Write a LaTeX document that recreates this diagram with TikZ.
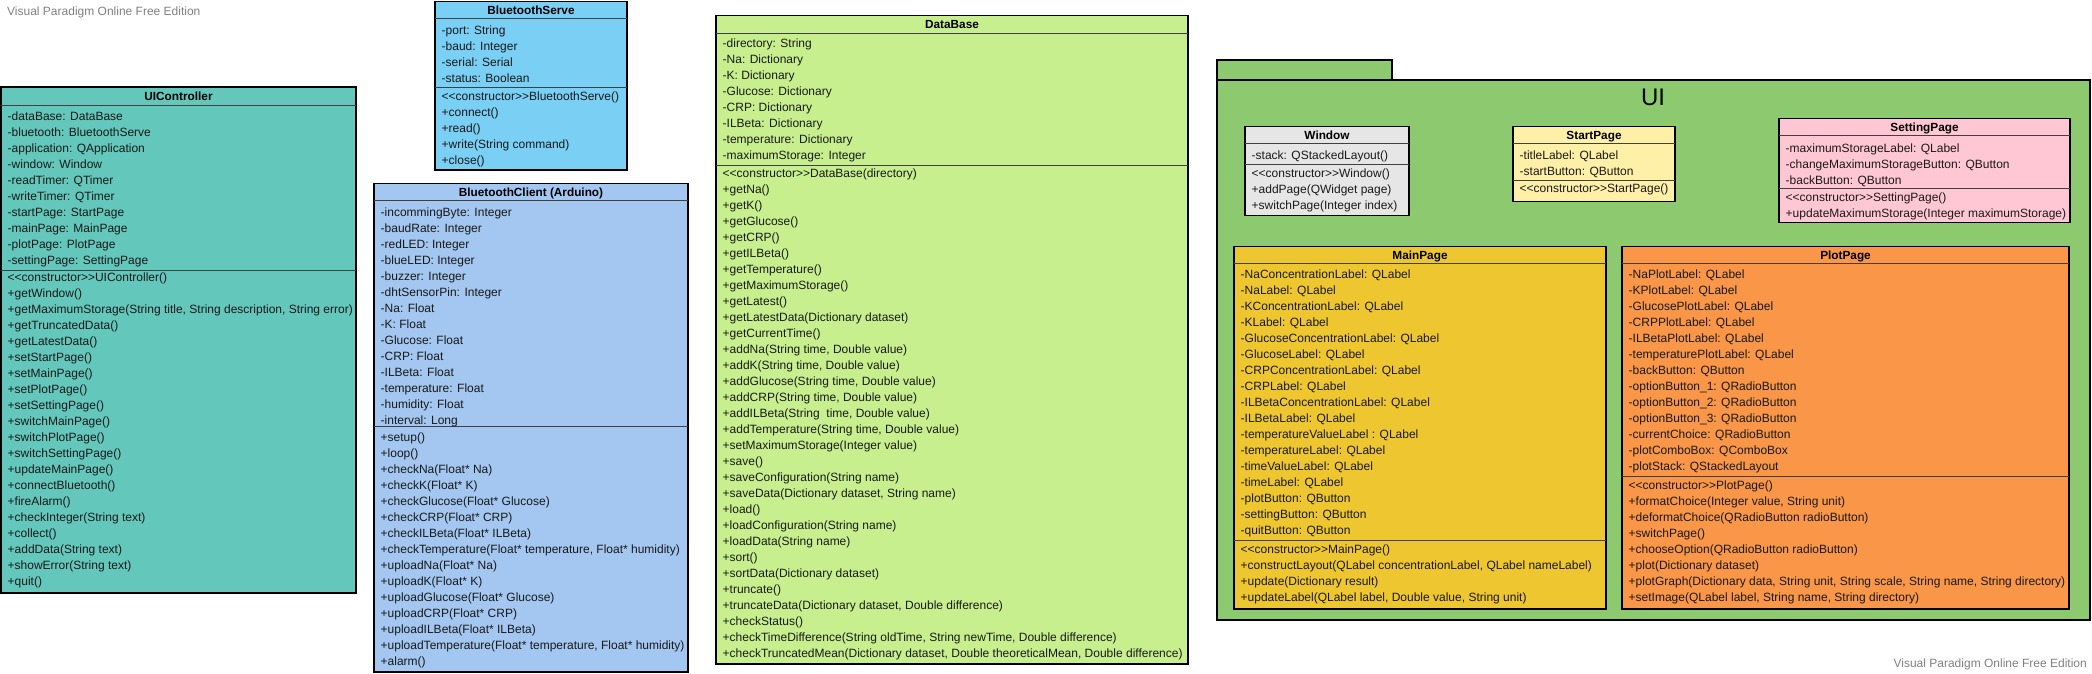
\documentclass[tikz,border=0pt]{standalone}
\usepackage{fontspec}
\setmainfont{Liberation Sans}[Ligatures=TeXOff]
\usetikzlibrary{calc}
\definecolor{cUIC}{RGB}{100,199,187}
\definecolor{cBTS}{RGB}{122,207,245}
\definecolor{cBTC}{RGB}{163,199,240}
\definecolor{cDB}{RGB}{200,239,142}
\definecolor{cUI}{RGB}{140,201,111}
\definecolor{cWin}{RGB}{230,230,230}
\definecolor{cStart}{RGB}{255,240,168}
\definecolor{cSet}{RGB}{255,199,211}
\definecolor{cMain}{RGB}{238,198,48}
\definecolor{cPlot}{RGB}{249,150,71}
\tikzset{
  classbox/.style={draw=black, line width=1.2pt, inner sep=0pt, outer sep=0pt},
  sepline/.style={draw=black!75, line width=0.9pt},
  titletext/.style={inner sep=0pt, font=\fontsize{11.8}{16}\selectfont\bfseries},
  linetext/.style={inner sep=0pt, font=\fontsize{12}{16}\selectfont, text=black!90},
  pkgbox/.style={draw=black, line width=1.2pt, fill=cUI, inner sep=0pt, outer sep=0pt},
  wmtext/.style={inner sep=0pt, font=\fontsize{12}{14}\selectfont, text=black!50}
}
% #1 name, #2 x1, #3 x2, #4 top, #5 title line, #6 separator, #7 bottom, #8 fill, #9 title
\newcommand\umlbox[9]{%
  \pgfmathsetmacro\bw{#3-#2}%
  \pgfmathsetmacro\bh{#7-#4}%
  \node[classbox, fill=#8, minimum width=\bw pt, minimum height=\bh pt, anchor=north west] (#1) at (#2,#4) {};
  \draw[sepline] ($(#1.north west)+(0,#5-#4)$) -- ($(#1.north east)+(0,#5-#4)$);
  \draw[sepline] ($(#1.north west)+(0,#6-#4)$) -- ($(#1.north east)+(0,#6-#4)$);
  \pgfmathsetmacro\tb{(#4+#5)/2+4.2}%
  \node[titletext, anchor=base] (#1-title) at ($(#1.north)+(0,\tb-#4)$) {#9};
}
% #1 name, #2 box left x, #3 first line centre y, #4 lines
\newcommand\umllines[4]{%
  \node[linetext, anchor=north west] (#1) at ({#2+6.5},{#3-7.0}) {\begin{tabular}{@{}l@{}}#4\end{tabular}};
}
\begin{document}
\begin{tikzpicture}[x=1pt,y=-1pt]
\useasboundingbox (0,0) rectangle (2092,674);

% watermarks
\node[wmtext, anchor=base west] (wm1) at (7,16) {Visual Paradigm Online Free Edition};
\node[wmtext, anchor=base east] (wm2) at (2087,667) {Visual Paradigm Online Free Edition};

% UIController
\umlbox{uic}{1}{356}{87}{105}{270}{593}{cUIC}{UIController}
\umllines{uic-attr}{1}{116}{-dataBase: DataBase\\-bluetooth: BluetoothServe\\-application: QApplication\\-window: Window\\-readTimer: QTimer\\-writeTimer: QTimer\\-startPage: StartPage\\-mainPage: MainPage\\-plotPage: PlotPage\\-settingPage: SettingPage}
\umllines{uic-meth}{1}{277.5}{<<constructor>>UIController()\\+getWindow()\\+getMaximumStorage(String title, String description, String error)\\+getTruncatedData()\\+getLatestData()\\+setStartPage()\\+setMainPage()\\+setPlotPage()\\+setSettingPage()\\+switchMainPage()\\+switchPlotPage()\\+switchSettingPage()\\+updateMainPage()\\+connectBluetooth()\\+fireAlarm()\\+checkInteger(String text)\\+collect()\\+addData(String text)\\+showError(String text)\\+quit()}

% BluetoothServe
\umlbox{bts}{435}{627}{1.3}{18.5}{87.3}{170}{cBTS}{BluetoothServe}
\umllines{bts-attr}{435}{30}{-port: String\\-baud: Integer\\-serial: Serial\\-status: Boolean}
\umllines{bts-meth}{435}{96}{<<constructor>>BluetoothServe()\\+connect()\\+read()\\+write(String command)\\+close()}

% BluetoothClient
\umlbox{btc}{374}{688}{183.3}{200.7}{426.7}{672}{cBTC}{BluetoothClient (Arduino)}
\umllines{btc-attr}{374}{211.7}{-incommingByte: Integer\\-baudRate: Integer\\-redLED: Integer\\-blueLED: Integer\\-buzzer: Integer\\-dhtSensorPin: Integer\\-Na: Float\\-K: Float\\-Glucose: Float\\-CRP: Float\\-ILBeta: Float\\-temperature: Float\\-humidity: Float\\-interval: Long}
\umllines{btc-meth}{374}{437.3}{+setup()\\+loop()\\+checkNa(Float* Na)\\+checkK(Float* K)\\+checkGlucose(Float* Glucose)\\+checkCRP(Float* CRP)\\+checkILBeta(Float* ILBeta)\\+checkTemperature(Float* temperature, Float* humidity)\\+uploadNa(Float* Na)\\+uploadK(Float* K)\\+uploadGlucose(Float* Glucose)\\+uploadCRP(Float* CRP)\\+uploadILBeta(Float* ILBeta)\\+uploadTemperature(Float* temperature, Float* humidity)\\+alarm()}

% DataBase
\umlbox{db}{716}{1188}{15.3}{33}{165.7}{664}{cDB}{DataBase}
\umllines{db-attr}{716}{43.3}{-directory: String\\-Na: Dictionary\\-K: Dictionary\\-Glucose: Dictionary\\-CRP: Dictionary\\-ILBeta: Dictionary\\-temperature: Dictionary\\-maximumStorage: Integer}
\umllines{db-meth}{716}{173.3}{<<constructor>>DataBase(directory)\\+getNa()\\+getK()\\+getGlucose()\\+getCRP()\\+getILBeta()\\+getTemperature()\\+getMaximumStorage()\\+getLatest()\\+getLatestData(Dictionary dataset)\\+getCurrentTime()\\+addNa(String time, Double value)\\+addK(String time, Double value)\\+addGlucose(String time, Double value)\\+addCRP(String time, Double value)\\+addILBeta(String\ \ time, Double value)\\+addTemperature(String time, Double value)\\+setMaximumStorage(Integer value)\\+save()\\+saveConfiguration(String name)\\+saveData(Dictionary dataset, String name)\\+load()\\+loadConfiguration(String name)\\+loadData(String name)\\+sort()\\+sortData(Dictionary dataset)\\+truncate()\\+truncateData(Dictionary dataset, Double difference)\\+checkStatus()\\+checkTimeDifference(String oldTime, String newTime, Double difference)\\+checkTruncatedMean(Dictionary dataset, Double theoreticalMean, Double difference)}

% UI package
\node[pkgbox, minimum width=873pt, minimum height=540pt, anchor=north west] (ui) at (1217,80) {};
\node[pkgbox, minimum width=175pt, minimum height=20pt, anchor=south west] (uitab) at (ui.north west) {};
\node[inner sep=0pt, font=\fontsize{24}{24}\selectfont] (uilabel) at (1653,97) {UI};

% Window
\umlbox{win}{1245}{1409}{126.7}{143.3}{164.7}{215.3}{cWin}{Window}
\umllines{win-attr}{1245}{155}{-stack: QStackedLayout()}
\umllines{win-meth}{1245}{172.7}{<<constructor>>Window()\\+addPage(QWidget page)\\+switchPage(Integer index)}

% StartPage
\umlbox{start}{1513}{1675}{126.7}{143.3}{180}{201.3}{cStart}{StartPage}
\umllines{start-attr}{1513}{155}{-titleLabel: QLabel\\-startButton: QButton}
\umllines{start-meth}{1513}{188.3}{<<constructor>>StartPage()}

% SettingPage
\umlbox{set}{1779}{2070}{118.3}{135.7}{188.3}{222.7}{cSet}{SettingPage}
\umllines{set-attr}{1779}{147.7}{-maximumStorageLabel: QLabel\\-changeMaximumStorageButton: QButton\\-backButton: QButton}
\umllines{set-meth}{1779}{196.7}{<<constructor>>SettingPage()\\+updateMaximumStorage(Integer maximumStorage)}

% MainPage
\umlbox{main}{1234}{1606}{246.3}{263.3}{540.3}{609}{cMain}{MainPage}
\umllines{main-attr}{1234}{274.3}{-NaConcentrationLabel: QLabel\\-NaLabel: QLabel\\-KConcentrationLabel: QLabel\\-KLabel: QLabel\\-GlucoseConcentrationLabel: QLabel\\-GlucoseLabel: QLabel\\-CRPConcentrationLabel: QLabel\\-CRPLabel: QLabel\\-ILBetaConcentrationLabel: QLabel\\-ILBetaLabel: QLabel\\-temperatureValueLabel : QLabel\\-temperatureLabel: QLabel\\-timeValueLabel: QLabel\\-timeLabel: QLabel\\-plotButton: QButton\\-settingButton: QButton\\-quitButton: QButton}
\umllines{main-meth}{1234}{549}{<<constructor>>MainPage()\\+constructLayout(QLabel concentrationLabel, QLabel nameLabel)\\+update(Dictionary result)\\+updateLabel(QLabel label, Double value, String unit)}

% PlotPage
\umlbox{plot}{1622}{2069}{246.3}{263.3}{476.7}{609}{cPlot}{PlotPage}
\umllines{plot-attr}{1622}{274.3}{-NaPlotLabel: QLabel\\-KPlotLabel: QLabel\\-GlucosePlotLabel: QLabel\\-CRPPlotLabel: QLabel\\-ILBetaPlotLabel: QLabel\\-temperaturePlotLabel: QLabel\\-backButton: QButton\\-optionButton\_1: QRadioButton\\-optionButton\_2: QRadioButton\\-optionButton\_3: QRadioButton\\-currentChoice: QRadioButton\\-plotComboBox: QComboBox\\-plotStack: QStackedLayout}
\umllines{plot-meth}{1622}{485}{<<constructor>>PlotPage()\\+formatChoice(Integer value, String unit)\\+deformatChoice(QRadioButton radioButton)\\+switchPage()\\+chooseOption(QRadioButton radioButton)\\+plot(Dictionary dataset)\\+plotGraph(Dictionary data, String unit, String scale, String name, String directory)\\+setImage(QLabel label, String name, String directory)}

\end{tikzpicture}
\end{document}
